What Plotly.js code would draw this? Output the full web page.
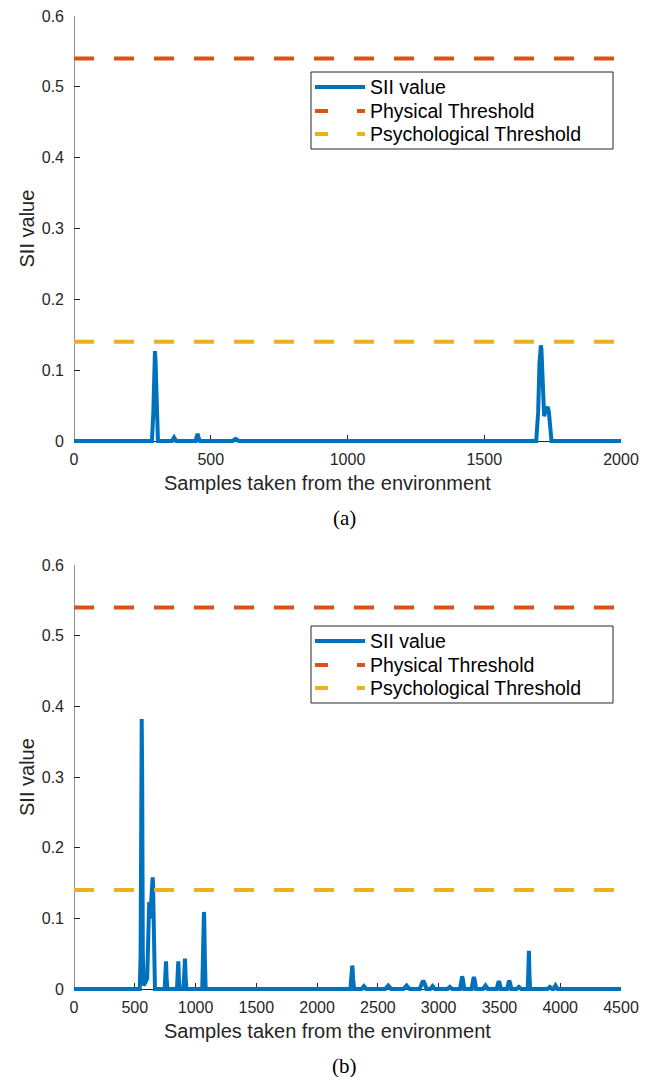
<!DOCTYPE html>
<html>
<head>
<meta charset="utf-8">
<script src="https://cdn.plot.ly/plotly-3.0.1.min.js"></script>
<style>html,body{margin:0;padding:0;background:#fff;}#chart{width:647px;height:1077px;}</style>
</head>
<body>
<div id="chart"></div>
<script>
// ---------- data ----------
// (a) SII value, environment 1 (samples 0..2000)
const samplesA = [0, 285, 290, 294, 296, 298, 302, 307, 358, 363, 366, 369, 374, 444, 449, 452, 455, 460, 580, 586, 591, 596, 602,
  1690, 1697, 1702, 1705, 1707, 1709, 1712, 1716, 1719, 1724, 1729, 1732, 1736, 1740, 1746, 2000];
const siiA = [0, 0, 0.04, 0.115, 0.127, 0.115, 0.04, 0, 0, 0.003, 0.005, 0.003, 0, 0, 0.006, 0.010, 0.006, 0, 0, 0.002, 0.003, 0.002, 0,
  0, 0.04, 0.11, 0.13, 0.135, 0.13, 0.09, 0.045, 0.035, 0.042, 0.048, 0.048, 0.042, 0.02, 0, 0];

// (b) SII value, environment 2 (samples 0..4500)
const samplesB = [0, 541, 548, 553, 556, 557, 558, 561, 566, 573, 590, 602, 612, 619, 627, 638, 644, 647, 650, 656, 666,
  746, 752, 756, 757, 758, 762, 768,
  847, 853, 857, 858, 859, 863, 869, 901, 907, 912, 913, 914, 918, 925,
  1055, 1062, 1067, 1069, 1071, 1076, 1083,
  2274, 2282, 2287, 2289, 2291, 2296, 2304,
  2365, 2385, 2405, 2560, 2585, 2610, 2710, 2736, 2762, 2845, 2862, 2873, 2884, 2900, 2930, 2950, 2970,
  3072, 3092, 3112, 3175, 3186, 3193, 3200, 3211, 3270, 3281, 3289, 3297, 3308, 3365, 3385, 3405,
  3478, 3488, 3495, 3502, 3512, 3562, 3573, 3580, 3587, 3598, 3640, 3660, 3680,
  3732, 3737, 3741, 3742, 3743, 3747, 3752, 3894, 3914, 3934, 3944, 3961, 3978, 4500];
const siiB = [0, 0, 0.05, 0.30, 0.375, 0.382, 0.375, 0.30, 0.05, 0.005, 0.01, 0.015, 0.08, 0.123, 0.10, 0.14, 0.155, 0.158, 0.15, 0.06, 0,
  0, 0.015, 0.036, 0.039, 0.036, 0.015, 0,
  0, 0.015, 0.036, 0.039, 0.036, 0.015, 0, 0, 0.018, 0.040, 0.043, 0.040, 0.018, 0,
  0, 0.05, 0.103, 0.109, 0.103, 0.05, 0,
  0, 0.015, 0.031, 0.033, 0.031, 0.015, 0,
  0, 0.004, 0, 0, 0.005, 0, 0, 0.005, 0, 0, 0.008, 0.012, 0.008, 0, 0, 0.004, 0,
  0, 0.003, 0, 0, 0.013, 0.018, 0.013, 0, 0, 0.012, 0.017, 0.012, 0, 0, 0.005, 0,
  0, 0.008, 0.011, 0.008, 0, 0, 0.009, 0.012, 0.009, 0, 0, 0.003, 0,
  0, 0.02, 0.05, 0.054, 0.05, 0.02, 0, 0, 0.003, 0, 0, 0.005, 0, 0];

const physicalThreshold = 0.54;
const psychologicalThreshold = 0.14;
const xRangeA = [0, 2000];
const xRangeB = [0, 4500];
const xTicksA = [0, 500, 1000, 1500, 2000];
const xTicksB = [0, 500, 1000, 1500, 2000, 2500, 3000, 3500, 4000, 4500];
const yTicks = [0, 0.1, 0.2, 0.3, 0.4, 0.5, 0.6];
const yTickLabels = ['0', '0.1', '0.2', '0.3', '0.4', '0.5', '0.6'];
const seriesNames = ['SII value', 'Physical Threshold', 'Psychological Threshold'];
const xTitle = 'Samples taken from the environment';
const yTitle = 'SII value';
const captions = ['(a)', '(b)'];

// ---------- styling / geometry ----------
const W = 647, H = 1077;
const colors = {ink: '#262626'};
const seriesColors = ['#0072BD', '#D95319', '#EDB120'];
const seriesDash = ['solid', '20px,20px', '20px,20px'];
const legendDash = ['solid', '13px,29px', '13px,29px'];
const sansFont = 'Liberation Sans, Arial, Helvetica, sans-serif';
const serifFont = 'Liberation Serif, Times New Roman, serif';
const yMax = 0.6, yPad = 0.006;
const axLeft = 74, axRight = 621;
const panels = [{top: 16, zero: 441, legTop: 72, legBottom: 149}, {top: 565, zero: 989, legTop: 626, legBottom: 703}];
const legendRowOffsets = [15, 39, 62];
function py(p) { return 1 - p / H; }
function px(p) { return p / W; }
function yDomain(pn) {
  const perUnit = (pn.zero - pn.top) / yMax;
  return [py(pn.zero + yPad * perUnit), py(pn.top)];
}

function makeTraces(xs, ys, xr, xa, ya) {
  const yLevels = [null, physicalThreshold, psychologicalThreshold];
  return seriesNames.map((nm, k) => ({
    x: k === 0 ? xs : xr,
    y: k === 0 ? ys : [yLevels[k], yLevels[k]],
    type: 'scatter', mode: 'lines', name: nm, xaxis: xa, yaxis: ya, showlegend: false,
    line: {color: seriesColors[k], width: 4, dash: seriesDash[k]}
  }));
}
const data = [].concat(
  makeTraces(samplesA, siiA, xRangeA, 'x', 'y'),
  makeTraces(samplesB, siiB, xRangeB, 'x2', 'y2')
);

const tickFont = {family: sansFont, size: 16, color: colors.ink};
function xAxis(range, ticks, pn) {
  return {
    domain: [px(axLeft), px(axRight)], range: range, anchor: 'free', position: py(pn.zero),
    tickvals: ticks, ticktext: ticks.map(String), ticks: 'inside', ticklen: 6, tickwidth: 1, tickcolor: colors.ink,
    showline: true, linecolor: colors.ink, linewidth: 1, showgrid: false, zeroline: false,
    tickfont: tickFont, layer: 'below traces', fixedrange: true, ticklabelstandoff: 4
  };
}
function yAxis(pn, xref) {
  return {
    domain: yDomain(pn), range: [-yPad, yMax], anchor: xref,
    tickvals: yTicks, ticktext: yTickLabels, ticks: 'inside', ticklen: 6, tickwidth: 1, tickcolor: colors.ink,
    showline: false, showgrid: false, zeroline: false, tickfont: tickFont, layer: 'below traces', fixedrange: true,
    ticklabelstandoff: 9
  };
}

const shapes = [];
const annotations = [];
panels.forEach((pn, i) => {
  const xr = i === 0 ? 'x' : 'x2', yr = i === 0 ? 'y' : 'y2';
  // y axis line (ends at zero)
  shapes.push({type: 'line', xref: xr, yref: yr, x0: 0, x1: 0, y0: 0, y1: yMax, line: {color: colors.ink, width: 1}, layer: 'below'});
  // legend box
  shapes.push({type: 'rect', xref: 'paper', yref: 'paper', x0: px(311), x1: px(613), y0: py(pn.legBottom), y1: py(pn.legTop),
               line: {color: colors.ink, width: 1}, fillcolor: '#ffffff', layer: 'above'});
  seriesNames.forEach((nm, k) => {
    const rowY = py(pn.legTop + legendRowOffsets[k]);
    shapes.push({type: 'line', xref: 'paper', yref: 'paper', x0: px(315), x1: px(365), y0: rowY, y1: rowY,
                 line: {color: seriesColors[k], width: 4, dash: legendDash[k]}, layer: 'above'});
    annotations.push({text: nm, xref: 'paper', yref: 'paper', x: px(369), y: rowY, xanchor: 'left', yanchor: 'middle',
                      showarrow: false, borderpad: 0, font: {family: sansFont, size: 19.5, color: '#000000'}});
  });
  annotations.push({text: xTitle, xref: 'paper', yref: 'paper', x: px(327), y: py(pn.zero + 42), xanchor: 'center', yanchor: 'middle',
                    showarrow: false, font: {family: sansFont, size: 20, color: colors.ink}});
  annotations.push({text: yTitle, xref: 'paper', yref: 'paper', x: px(27), y: py((pn.top + pn.zero) / 2), xanchor: 'center', yanchor: 'middle',
                    textangle: -90, showarrow: false, font: {family: sansFont, size: 20, color: colors.ink}});
  annotations.push({text: captions[i], xref: 'paper', yref: 'paper', x: px(344), y: py(pn.zero + 77), xanchor: 'center', yanchor: 'middle',
                    showarrow: false, font: {family: serifFont, size: 21, color: '#000000'}});
});

const layout = {
  width: W, height: H, margin: {l: 0, r: 0, t: 0, b: 0, pad: 0},
  paper_bgcolor: '#ffffff', plot_bgcolor: 'rgba(0,0,0,0)',
  showlegend: false,
  xaxis: xAxis(xRangeA, xTicksA, panels[0]),
  yaxis: yAxis(panels[0], 'x'),
  xaxis2: xAxis(xRangeB, xTicksB, panels[1]),
  yaxis2: yAxis(panels[1], 'x2'),
  shapes: shapes,
  annotations: annotations
};

Plotly.newPlot('chart', data, layout, {staticPlot: true, displayModeBar: false});
</script>
</body>
</html>
